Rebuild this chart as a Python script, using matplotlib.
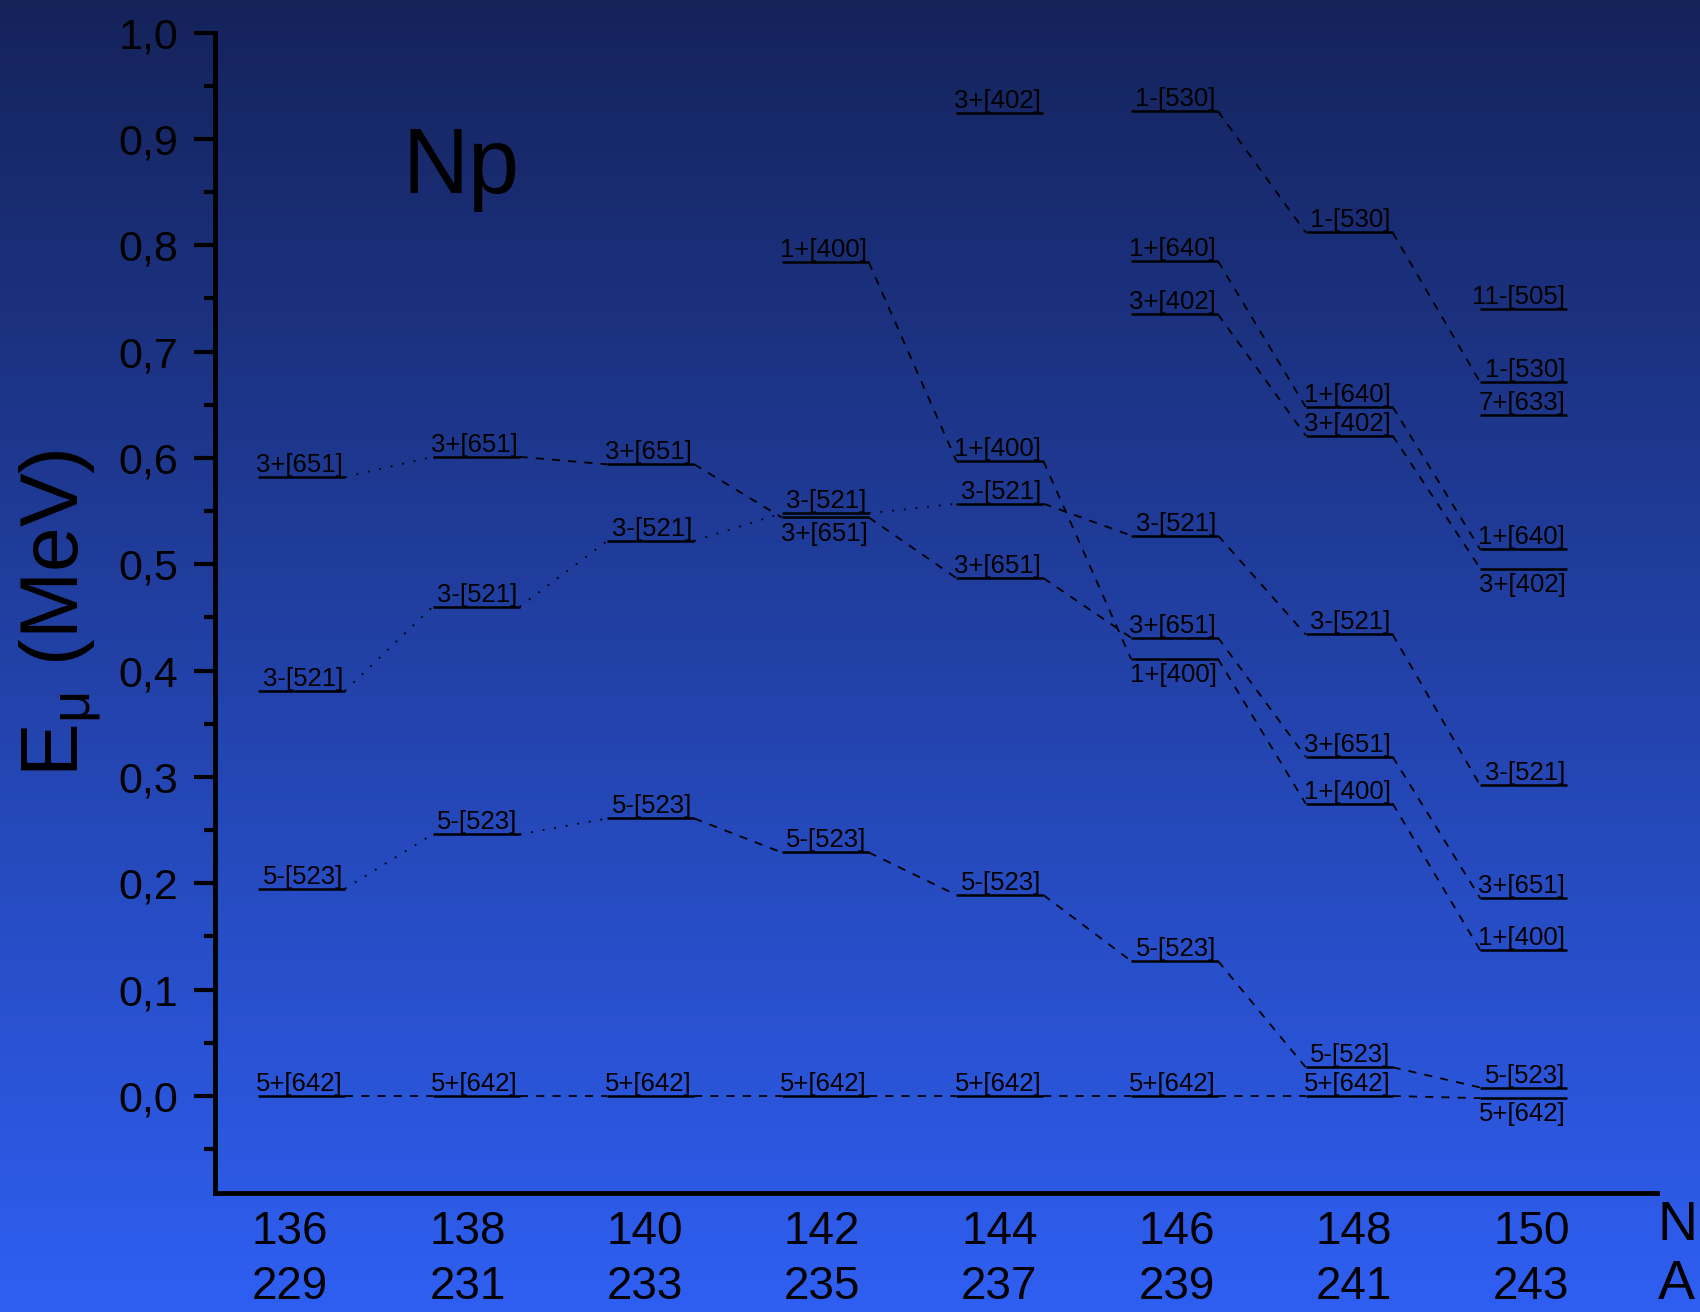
import numpy as np
import matplotlib
matplotlib.use("Agg")
import matplotlib.pyplot as plt
from matplotlib.colors import LinearSegmentedColormap
from matplotlib.ticker import MultipleLocator, FuncFormatter

plt.rcParams['font.family'] = ['Liberation Sans', 'DejaVu Sans']
plt.rcParams['mathtext.fontset'] = 'custom'
plt.rcParams['mathtext.rm'] = 'Liberation Sans'
plt.rcParams['mathtext.it'] = 'Liberation Sans'

# neutron number / mass number for each column
N_vals = [136, 138, 140, 142, 144, 146, 148, 150]
A_vals = [229, 231, 233, 235, 237, 239, 241, 243]

# level energies (MeV) per orbital, None = not shown
e_642 = [0.0, 0.0, 0.0, 0.0, 0.0, 0.0, 0.0, -0.002]
e_523 = [0.195, 0.246, 0.261, 0.229, 0.189, 0.127, 0.027, 0.008]
e_521 = [0.381, 0.460, 0.522, 0.548, 0.557, 0.527, 0.434, 0.292]
e_651 = [0.582, 0.601, 0.594, 0.544, 0.487, 0.431, 0.319, 0.186]
e_400 = [None, None, None, 0.784, 0.597, 0.411, 0.275, 0.137]
e_402 = [None, None, None, None, 0.924, 0.735, 0.621, 0.496]
e_640 = [None, None, None, None, None, 0.785, 0.648, 0.514]
e_530 = [None, None, None, None, None, 0.926, 0.812, 0.671]
e_633 = [None, None, None, None, None, None, None, 0.640]
e_505 = [None, None, None, None, None, None, None, 0.740]

orbitals = {
    '5+[642]': e_642,
    '5-[523]': e_523,
    '3-[521]': e_521,
    '3+[651]': e_651,
    '1+[400]': e_400,
    '3+[402]': e_402,
    '1+[640]': e_640,
    '1-[530]': e_530,
    '7+[633]': e_633,
    '11-[505]': e_505,
}

# connector style between column i and i+1 (None = no line)
seg_style = {
    '5+[642]': ['--'] * 7,
    '5-[523]': [':', ':', '--', '--', '--', '--', '--'],
    '3-[521]': [':', ':', ':', ':', '--', '--', '--'],
    '3+[651]': [':', '--', '--', '--', '--', '--', '--'],
    '1+[400]': [None, None, None, '--', '--', '--', '--'],
    '3+[402]': [None, None, None, None, None, '--', '--'],
    '1+[640]': [None, None, None, None, None, '--', '--'],
    '1-[530]': [None, None, None, None, None, '--', '--'],
}
# labels written under the level instead of above
below = {('3+[651]', 3), ('1+[400]', 5), ('3+[402]', 7), ('5+[642]', 7)}

half_w = 0.249
dash_styles = {'--': (0, (4.5, 4.5)), ':': (0, (1, 5.5))}

fig = plt.figure(figsize=(17, 13.12), dpi=100)

# background gradient
bg = fig.add_axes([0, 0, 1, 1], zorder=0)
cmap = LinearSegmentedColormap.from_list('bg', ['#15235b', '#2f5ff2'])
bg.imshow(np.linspace(0, 1, 256).reshape(-1, 1), aspect='auto', cmap=cmap,
          extent=[0, 1, 0, 1], origin='upper')
bg.set_axis_off()

ax = fig.add_axes([0.1263, 0.0907, 0.9747 - 0.1263, 0.9752 - 0.0907], zorder=1)
ax.patch.set_alpha(0)

x = np.arange(len(N_vals))
for name, en in orbitals.items():
    for i, e in enumerate(en):
        if e is None:
            continue
        ax.plot([x[i] - half_w, x[i] + half_w], [e, e], color='black', lw=1.8,
                solid_capstyle='butt')
        if (name, i) in below:
            ax.annotate(name, xy=(x[i] + half_w, e), xytext=(-1, -3),
                        textcoords='offset points', ha='right', va='top',
                        fontsize=18.5)
        else:
            ax.annotate(name, xy=(x[i] + half_w, e), xytext=(-1.5, 0),
                        textcoords='offset points', ha='right', va='bottom',
                        fontsize=18.5)
    styles = seg_style.get(name, [])
    for i, st in enumerate(styles):
        if st is None or en[i] is None or en[i + 1] is None:
            continue
        ax.plot([x[i] + half_w, x[i + 1] - half_w], [en[i], en[i + 1]],
                color='black', lw=1.3, linestyle=dash_styles[st])

ax.set_xlim(-0.497, 7.763)
ax.set_ylim(-0.0912, 1.0)

for s in ['top', 'right']:
    ax.spines[s].set_visible(False)
ax.spines['left'].set_linewidth(3.5)
ax.spines['bottom'].set_linewidth(3.5)

ax.yaxis.set_major_locator(MultipleLocator(0.1))
ax.yaxis.set_minor_locator(MultipleLocator(0.05))
ax.yaxis.set_major_formatter(FuncFormatter(lambda v, p: f"{v:.1f}".replace('.', ',') if v >= -0.001 else ''))
ax.tick_params(axis='y', which='major', length=15, width=3, pad=11, labelsize=31)
ax.tick_params(axis='y', which='minor', length=8, width=3)
ax.set_xticks([])

# two-row x labels
for i in range(len(N_vals)):
    xp = i * 1.0155 - 0.065
    ax.annotate(str(N_vals[i]), xy=(xp, 0), xycoords=('data', 'axes fraction'),
                xytext=(0, -28), textcoords='offset points', ha='center', va='center',
                fontsize=33)
    ax.annotate(str(A_vals[i]), xy=(xp, 0), xycoords=('data', 'axes fraction'),
                xytext=(0, -68), textcoords='offset points', ha='center', va='center',
                fontsize=33)
fig.text(1658 / 1700, 1 - 1240 / 1312, 'N', fontsize=40, ha='left', va='baseline')
fig.text(1658 / 1700, 1 - 1299 / 1312, 'A', fontsize=40, ha='left', va='baseline')

fig.text(402 / 1700, 1 - 193 / 1312, 'Np', fontsize=66, ha='left', va='baseline')
fig.text(60 / 1700, 1 - 613 / 1312, r'E$_{\mu}$ (MeV)', fontsize=58,
         rotation=90, ha='center', va='center')

fig.savefig('out.png', dpi=100)
